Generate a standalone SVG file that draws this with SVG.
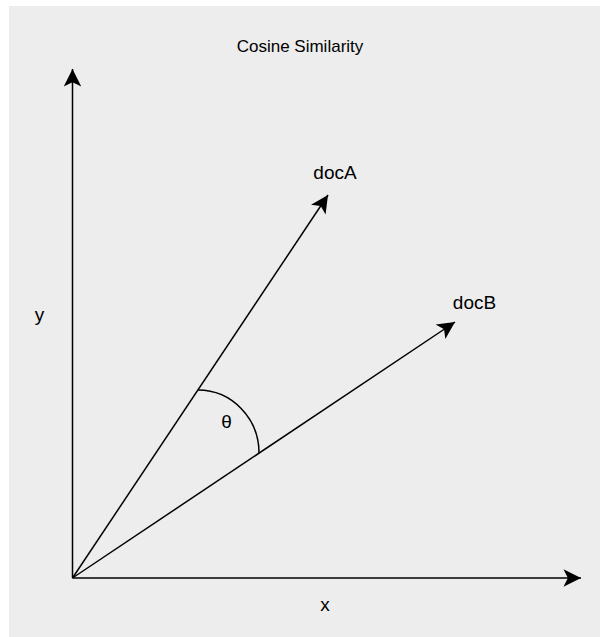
<svg xmlns="http://www.w3.org/2000/svg" width="600" height="637" viewBox="0 0 600 637">
<style>
.t{font-family:"Liberation Sans",Arial,sans-serif;font-size:19px;fill:#000}
.h{font-size:17px}
.l{stroke:#000;stroke-width:1.5;fill:none}
</style>
<defs>
<marker id="ah" markerUnits="userSpaceOnUse" markerWidth="20" markerHeight="20" viewBox="-15 -8 16 16" refX="0" refY="0" orient="auto">
<path d="M0,0 L-14,-7 L-10.5,0 L-14,7 Z" fill="#000"/>
</marker>
</defs>
<rect x="9" y="6" width="591" height="631" fill="#ededed"/>
<g id="title"><text class="t h" x="300" y="52" text-anchor="middle">Cosine Similarity</text></g>
<g id="connectors">
<line class="l" x1="72.5" y1="578" x2="72.5" y2="69" marker-end="url(#ah)"/>
<line class="l" x1="72.5" y1="578" x2="581" y2="578" marker-end="url(#ah)"/>
<line class="l" x1="72.5" y1="578" x2="328" y2="195" marker-end="url(#ah)"/>
<line class="l" x1="72.5" y1="578" x2="455" y2="322" marker-end="url(#ah)"/>
<path class="l" d="M198,390 A61,63 0 0 1 259,453"/>
</g>
<g id="label-y"><text class="t" x="39.5" y="321" text-anchor="middle">y</text></g>
<g id="label-x"><text class="t" x="325" y="611" text-anchor="middle">x</text></g>
<g id="label-docA"><text class="t" x="335" y="179" text-anchor="middle">docA</text></g>
<g id="label-docB"><text class="t" x="474.5" y="309" text-anchor="middle">docB</text></g>
<g id="label-theta"><text class="t" x="226.5" y="428" text-anchor="middle">θ</text></g>
</svg>
